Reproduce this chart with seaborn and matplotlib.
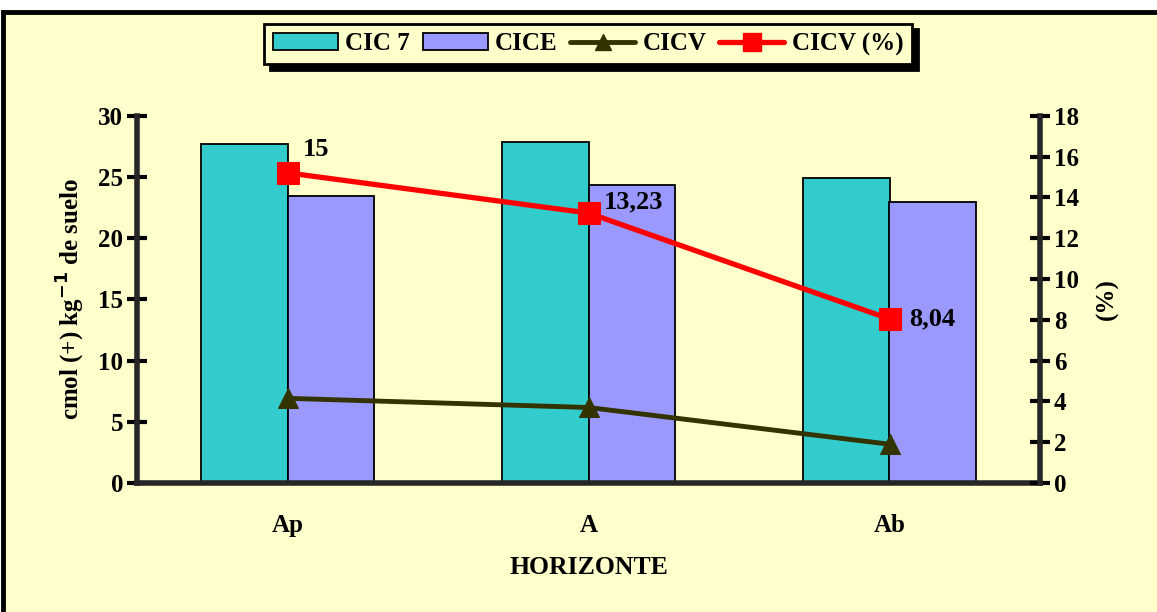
import numpy as np
import pandas as pd
import seaborn as sns
import matplotlib.pyplot as plt
from matplotlib.patches import Patch, Rectangle
from matplotlib.lines import Line2D

# datos
horizontes = ['Ap', 'A', 'Ab']
cic7 = [27.7, 27.85, 24.95]
cice = [23.45, 24.3, 22.95]
cicv = [4.15, 3.7, 1.9]
cicv_pct = [15.2, 13.23, 8.04]
cicv_pct_labels = ['15', '13,23', '8,04']

bg = '#FFFFCC'
col_cic7 = '#33CCCC'
col_cice = '#9999FF'
col_cicv = '#333300'
col_pct = '#FF0000'

sns.set_style('white')
plt.rcParams['font.family'] = ['Liberation Serif', 'DejaVu Serif']
plt.rcParams['font.weight'] = 'bold'
plt.rcParams['text.color'] = 'black'
plt.rcParams['axes.labelcolor'] = 'black'
plt.rcParams['xtick.color'] = 'black'
plt.rcParams['ytick.color'] = 'black'

df = pd.DataFrame({
    'horizonte': horizontes * 2,
    'serie': ['CIC 7'] * 3 + ['CICE'] * 3,
    'valor': cic7 + cice,
})

fig = plt.figure(figsize=(11.57, 6.12), dpi=100, facecolor='white')
# fondo amarillo con marco negro
fig.patches.append(Rectangle((3 / 1157, -0.05), 1.1, (612 - 12) / 612 + 0.05,
                             transform=fig.transFigure, facecolor=bg,
                             edgecolor='black', linewidth=3.5, zorder=-10))

ax = fig.add_axes([137 / 1157, 129 / 612, 903 / 1157, 367.3 / 612])
ax.set_facecolor('none')
sns.barplot(df, x='horizonte', y='valor', hue='serie', ax=ax,
            palette=[col_cic7, col_cice], width=0.572, gap=0,
            edgecolor='black', linewidth=1.3, saturation=1, legend=False)
ax.set_xlim(-0.5, 2.5)
ax.set_ylim(0, 30)
ax.set_yticks(np.arange(0, 31, 5))
ax.set_xticks([-0.5, 0.5, 1.5, 2.5], minor=True)
ax.tick_params(axis='x', which='major', length=0, labelsize=18, pad=22)
ax.tick_params(axis='x', which='minor', direction='inout', length=14, width=3)
ax.tick_params(axis='y', direction='inout', length=14, width=3, labelsize=18, pad=3)
for s in ['top', 'right']:
    ax.spines[s].set_visible(False)
for s in ['left', 'bottom']:
    ax.spines[s].set_linewidth(4)
ax.set_xlabel('HORIZONTE', fontsize=18.5, fontweight='bold', labelpad=14)
ax.set_ylabel('cmol (+) kg$^{\\mathbf{-1}}$ de suelo', fontsize=18, fontweight='bold', labelpad=8)

ax2 = ax.twinx()
pos = list(range(len(horizontes)))
sns.lineplot(x=pos, y=cicv, ax=ax2, color=col_cicv, linewidth=3.5,
             marker='^', markersize=15, markeredgecolor=col_cicv)
sns.lineplot(x=pos, y=cicv_pct, ax=ax2, color=col_pct, linewidth=3.8,
             marker='s', markersize=16, markeredgecolor=col_pct)
ax2.set_ylim(0, 18)
ax2.set_yticks(np.arange(0, 19, 2))
ax2.set_xlim(-0.5, 2.5)
ax2.tick_params(axis='y', direction='inout', length=14, width=3, labelsize=18, pad=3)
for s in ['top', 'left', 'bottom']:
    ax2.spines[s].set_visible(False)
ax2.spines['right'].set_linewidth(4)
ax2.set_ylabel('(%)', fontsize=18, fontweight='bold', rotation=90, labelpad=12)

offsets = [(11, 17), (11, 8), (14, 0)]
for xi, yi, lab, off in zip(pos, cicv_pct, cicv_pct_labels, offsets):
    ax2.annotate(lab, (xi, yi), xytext=off, textcoords='offset points',
                 ha='left', va='center', fontsize=19, fontweight='bold')

handles = [
    Patch(facecolor=col_cic7, edgecolor='black', linewidth=1.3),
    Patch(facecolor=col_cice, edgecolor='black', linewidth=1.3),
    Line2D([], [], color=col_cicv, linewidth=3.5, marker='^', markersize=12),
    Line2D([], [], color=col_pct, linewidth=3.8, marker='s', markersize=13),
]
leg = fig.legend(handles, ['CIC 7', 'CICE', 'CICV', 'CICV (%)'],
                 loc='center', bbox_to_anchor=(588 / 1157, 1 - 44 / 612),
                 ncol=4, frameon=True, fancybox=False, framealpha=1,
                 shadow={'color': 'black', 'alpha': 1, 'ox': 4, 'oy': -4},
                 handlelength=2.6, handletextpad=0.3, columnspacing=0.5,
                 borderpad=0.35, prop={'weight': 'bold', 'size': 18})
leg.get_frame().set_facecolor(bg)
leg.get_frame().set_edgecolor('black')
leg.get_frame().set_linewidth(2)

fig.savefig('out.png', dpi=100, facecolor=fig.get_facecolor())
